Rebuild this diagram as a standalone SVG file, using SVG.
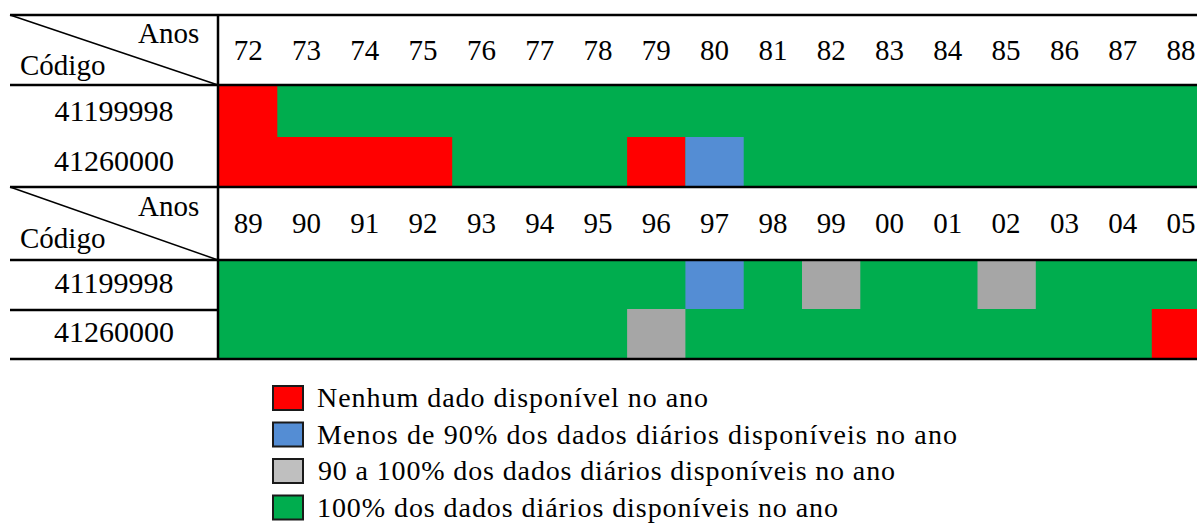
<svg xmlns="http://www.w3.org/2000/svg" width="1197" height="523" viewBox="0 0 1197 523">
<style>
text{font-family:"Liberation Serif",LiberationSerif,"Times New Roman",Times,"DejaVu Serif","Noto Serif",FreeSerif,serif;fill:#000}
.yr{font-size:29px;text-anchor:middle}
.cd{font-size:30px;text-anchor:middle}
.hd{font-size:29px}
.lg{font-size:28px}
.ln{stroke:#000;stroke-width:2.5;fill:none}
.dg{stroke:#000;stroke-width:1.5;fill:none}
.r{fill:#FF0000}.g{fill:#00AD4E}.b{fill:#548DD4}.s{fill:#A6A6A6}
.lk{stroke:#1a1a1a;stroke-width:2}
</style>
<rect width="1197" height="523" fill="#fff"/>
<g id="section1-cells">
<rect class="g" x="219" y="86" width="978" height="101"/>
<rect class="r" x="219" y="86" width="58.3" height="51"/>
<rect class="r" x="219" y="137" width="233.2" height="50"/>
<rect class="r" x="627.1" y="137" width="58.3" height="50"/>
<rect class="b" x="685.4" y="137" width="58.3" height="50"/>
</g>
<g id="section2-cells">
<rect class="g" x="219" y="261" width="978" height="98"/>
<rect class="b" x="685.4" y="261" width="58.3" height="48"/>
<rect class="s" x="802" y="261" width="58.3" height="48"/>
<rect class="s" x="977.5" y="261" width="58.3" height="48"/>
<rect class="s" x="627.1" y="309" width="58.3" height="50"/>
<rect class="r" x="1151.8" y="309" width="45.2" height="50"/>
</g>
<g id="grid">
<line class="ln" x1="10" y1="15" x2="1197" y2="15"/>
<line class="ln" x1="10" y1="85" x2="1197" y2="85"/>
<line class="ln" x1="10" y1="187" x2="1197" y2="187"/>
<line class="ln" x1="10" y1="260" x2="1197" y2="260"/>
<line class="ln" x1="10" y1="310" x2="218" y2="310"/>
<line class="ln" x1="10" y1="359" x2="1197" y2="359"/>
<line class="ln" x1="218" y1="14" x2="218" y2="360"/>
<line class="dg" x1="10" y1="15" x2="218" y2="85"/>
<line class="dg" x1="10" y1="187" x2="218" y2="260"/>
</g>
<g id="header1">
<text class="hd" x="138" y="43">Anos</text>
<text class="hd" x="20" y="75">Código</text>
<text class="yr" x="248.2" y="60">72</text>
<text class="yr" x="306.5" y="60">73</text>
<text class="yr" x="364.8" y="60">74</text>
<text class="yr" x="423.1" y="60">75</text>
<text class="yr" x="481.4" y="60">76</text>
<text class="yr" x="539.7" y="60">77</text>
<text class="yr" x="598" y="60">78</text>
<text class="yr" x="656.3" y="60">79</text>
<text class="yr" x="714.6" y="60">80</text>
<text class="yr" x="772.9" y="60">81</text>
<text class="yr" x="831.2" y="60">82</text>
<text class="yr" x="889.5" y="60">83</text>
<text class="yr" x="947.8" y="60">84</text>
<text class="yr" x="1006.1" y="60">85</text>
<text class="yr" x="1064.4" y="60">86</text>
<text class="yr" x="1122.7" y="60">87</text>
<text class="yr" x="1181" y="60">88</text>
</g>
<g id="codes1">
<text class="cd" x="114" y="121">41199998</text>
<text class="cd" x="114" y="171">41260000</text>
</g>
<g id="header2">
<text class="hd" x="138" y="216">Anos</text>
<text class="hd" x="20" y="248">Código</text>
<text class="yr" x="248.2" y="233">89</text>
<text class="yr" x="306.5" y="233">90</text>
<text class="yr" x="364.8" y="233">91</text>
<text class="yr" x="423.1" y="233">92</text>
<text class="yr" x="481.4" y="233">93</text>
<text class="yr" x="539.7" y="233">94</text>
<text class="yr" x="598" y="233">95</text>
<text class="yr" x="656.3" y="233">96</text>
<text class="yr" x="714.6" y="233">97</text>
<text class="yr" x="772.9" y="233">98</text>
<text class="yr" x="831.2" y="233">99</text>
<text class="yr" x="889.5" y="233">00</text>
<text class="yr" x="947.8" y="233">01</text>
<text class="yr" x="1006.1" y="233">02</text>
<text class="yr" x="1064.4" y="233">03</text>
<text class="yr" x="1122.7" y="233">04</text>
<text class="yr" x="1181" y="233">05</text>
</g>
<g id="codes2">
<text class="cd" x="114" y="293">41199998</text>
<text class="cd" x="114" y="342">41260000</text>
</g>
<g id="legend">
<rect class="r lk" x="273" y="386" width="30" height="24"/>
<text class="lg" x="317" y="407" textLength="391" lengthAdjust="spacing">Nenhum dado disponível no ano</text>
<rect class="b lk" x="273" y="422.5" width="30" height="24"/>
<text class="lg" x="317" y="443.5" textLength="640" lengthAdjust="spacing">Menos de 90% dos dados diários disponíveis no ano</text>
<rect fill="#BFBFBF" class="lk" x="273" y="459" width="30" height="24"/>
<text class="lg" x="318" y="480" textLength="577" lengthAdjust="spacing">90 a 100% dos dados diários disponíveis no ano</text>
<rect class="g lk" x="273" y="495.5" width="30" height="24"/>
<text class="lg" x="317" y="516.5" textLength="521" lengthAdjust="spacing">100% dos dados diários disponíveis no ano</text>
</g>
</svg>
